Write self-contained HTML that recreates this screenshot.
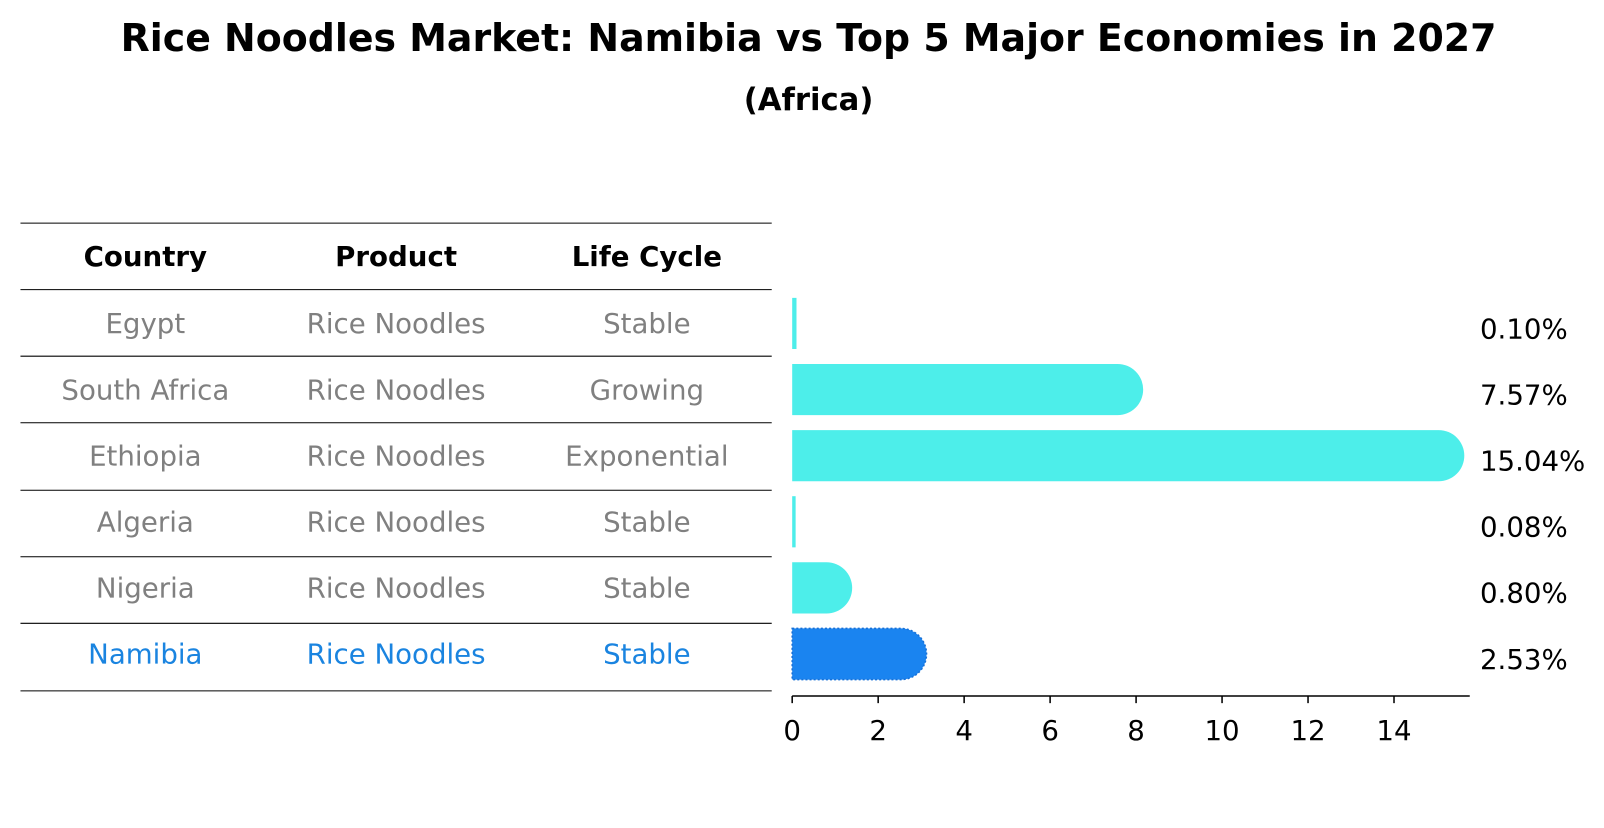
<!DOCTYPE html>
<html><head><meta charset="utf-8"><style>
body{margin:0;background:#fff;}
svg text{font-family:"DejaVu Sans","Liberation Sans",sans-serif;}
</style></head><body>
<svg id="c" width="1604" height="823" xmlns="http://www.w3.org/2000/svg">
<g transform="scale(1.0235)">
<text x="790" y="50" text-anchor="middle" font-size="37" font-weight="bold">Rice Noodles Market: Namibia vs Top 5 Major Economies in 2027</text>
<text x="790" y="107.5" text-anchor="middle" font-size="30" font-weight="bold">(Africa)</text>
<g id="table"></g>
<g id="bars"></g>
<g id="axis"></g>
</g>
</svg>
<script>
const countries=["Egypt","South Africa","Ethiopia","Algeria","Nigeria","Namibia"];
const products=["Rice Noodles","Rice Noodles","Rice Noodles","Rice Noodles","Rice Noodles","Rice Noodles"];
const lifeCycles=["Stable","Growing","Exponential","Stable","Stable","Stable"];
const values=[0.10,7.57,15.04,0.08,0.80,2.53];
const labels=["0.10%","7.57%","15.04%","0.08%","0.80%","2.53%"];
const ticks=[0,2,4,6,8,10,12,14];
const NS="http://www.w3.org/2000/svg";
function mk(t,a,p){const e=document.createElementNS(NS,t);for(const k in a)e.setAttribute(k,a[k]);p.appendChild(e);return e;}
const x=v=>774+v*42;
const rowY=i=>316+i*64.6;
const FS=27;
const tb=document.getElementById('table'),bg=document.getElementById('bars'),ax=document.getElementById('axis');
const lineYs=[218,283,348,413,479,544,609,675];
lineYs.forEach(y=>{const l=mk('line',{x1:20,x2:754,y1:y,y2:y,stroke:'#000','stroke-width':1},tb);

});
const cols=[142,387,632];
["Country","Product","Life Cycle"].forEach((h,j)=>{const t=mk('text',{x:cols[j],y:260,'text-anchor':'middle','font-size':FS,'font-weight':'bold'},tb);t.textContent=h;

});
countries.forEach((c,i)=>{
 const last=i===countries.length-1;
 const col=last?'#1a84e0':'#808080';
 [c,products[i],lifeCycles[i]].forEach((s,j)=>{const t=mk('text',{x:cols[j],y:rowY(i)+9.5,'text-anchor':'middle','font-size':FS,fill:col},tb);t.textContent=s;
 
 });
 const w=Math.max(x(values[i])-x(0),3);const ext=w<10?0:25;const h=50;const y0=rowY(i)-25;
 const fill=last?'#1a84f0':'#4deeea';
 const x0=x(0),xe=x0+w;
 let d;
 if(ext){d=`M${x0},${y0} H${xe} A25,25 0 0 1 ${xe},${y0+h} H${x0} Z`;}
 else{d=`M${x0},${y0} H${xe} V${y0+h} H${x0} Z`;}
 const attrs={d:d,fill:fill};
 if(last){attrs.stroke='#1670d8';attrs['stroke-width']=1.5;attrs['stroke-dasharray']='2 2';}
 const b=mk('path',attrs,bg);
 
 
 const t=mk('text',{x:1446,y:rowY(i)+14.5,'font-size':FS},bg);t.textContent=labels[i];
 
 
});
mk('line',{x1:774,x2:1436,y1:680,y2:680,stroke:'#000','stroke-width':1.5},ax);
ticks.forEach(v=>{mk('line',{x1:x(v),x2:x(v),y1:680,y2:687,stroke:'#000','stroke-width':1.5},ax);
 const t=mk('text',{x:x(v),y:723,'text-anchor':'middle','font-size':FS},ax);t.textContent=v;
 
 });
</script>
</body></html>
